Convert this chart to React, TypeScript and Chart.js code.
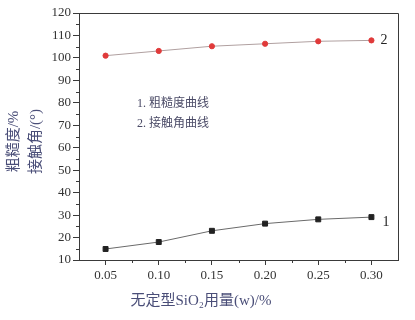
import React, { useEffect, useRef } from "react";
import { Chart, registerables } from "chart.js";
Chart.register(...registerables);

const dosage = [0.05, 0.10, 0.15, 0.20, 0.25, 0.30];
const roughness = [14.9, 18.0, 23.0, 26.2, 28.1, 29.1];
const contactAngle = [101.0, 103.1, 105.2, 106.3, 107.4, 107.8];
const xTicks = [0.05, 0.10, 0.15, 0.20, 0.25, 0.30];
const yTicks = [10, 20, 30, 40, 50, 60, 70, 80, 90, 100, 110, 120];
const legendLines = ["1. 粗糙度曲线", "2. 接触角曲线"];
const yTitleLines = ["粗糙度/%", "接触角/(°)"];
const xTitle = "无定型SiO₂用量(w)/%";

const SERIF = "'Liberation Serif', 'Noto Sans CJK SC', serif";
const AXIS = "#3a3a3a";

const decor = {
  id: "decor",
  afterDraw(chart: any) {
    const { ctx, chartArea: a, scales } = chart;
    const xs = scales.x, ys = scales.y;
    ctx.save();
    // frame top/right
    ctx.strokeStyle = AXIS;
    ctx.lineWidth = 1;
    ctx.beginPath();
    ctx.moveTo(a.left, a.top + 0.5);
    ctx.lineTo(a.right + 0.5, a.top + 0.5);
    ctx.lineTo(a.right + 0.5, a.bottom);
    ctx.stroke();
    // minor ticks
    ctx.beginPath();
    for (let v = 15; v < 120; v += 10) {
      const y = Math.round(ys.getPixelForValue(v)) + 0.5;
      ctx.moveTo(a.left - 3, y);
      ctx.lineTo(a.left, y);
    }
    for (let v = 0.075; v < 0.32; v += 0.05) {
      const x = Math.round(xs.getPixelForValue(v)) + 0.5;
      ctx.moveTo(x, a.bottom);
      ctx.lineTo(x, a.bottom + 3);
    }
    ctx.stroke();
    // curve labels
    ctx.fillStyle = "#222";
    ctx.font = `14px ${SERIF}`;
    ctx.textBaseline = "middle";
    ctx.textAlign = "left";
    const lx = xs.getPixelForValue(dosage[dosage.length - 1]) + 9;
    ctx.fillText("2", lx, ys.getPixelForValue(contactAngle[contactAngle.length - 1]));
    ctx.fillText("1", lx + 2, ys.getPixelForValue(roughness[roughness.length - 1]) + 5);
    // legend
    ctx.fillStyle = "#4a4a66";
    ctx.font = `12px ${SERIF}`;
    ctx.fillText(legendLines[0], a.left + 58, ys.getPixelForValue(79.5));
    ctx.fillText(legendLines[1], a.left + 58, ys.getPixelForValue(70.5));
    // y title
    ctx.fillStyle = "#4a4e78";
    ctx.font = `15px ${SERIF}`;
    ctx.textAlign = "center";
    const cy = (a.top + a.bottom) / 2 + 5;
    [14, 36].forEach((x, i) => {
      ctx.save();
      ctx.translate(x, cy);
      ctx.rotate(-Math.PI / 2);
      ctx.fillText(yTitleLines[i], 0, 0);
      ctx.restore();
    });
    // x title
    ctx.fillStyle = "#4a4e78";
    ctx.font = `15px ${SERIF}`;
    ctx.fillText(xTitle, 201, 301);
    ctx.restore();
  },
};

export default function App() {
  const ref = useRef<HTMLCanvasElement>(null);
  useEffect(() => {
    if (!ref.current) return;
    const chart = new Chart(ref.current, {
      type: "line",
      data: {
        datasets: [
          {
            label: "粗糙度",
            data: dosage.map((x, i) => ({ x, y: roughness[i] })),
            borderColor: "#6a6a6a",
            borderWidth: 1,
            pointStyle: "rect",
            pointRadius: 3.5,
            pointBackgroundColor: "#222",
            pointBorderColor: "#222",
            tension: 0,
          },
          {
            label: "接触角",
            data: dosage.map((x, i) => ({ x, y: contactAngle[i] })),
            borderColor: "#b0a0a0",
            borderWidth: 1,
            pointStyle: "circle",
            pointRadius: 2.6,
            pointBackgroundColor: "#e03a3a",
            pointBorderColor: "#e03a3a",
            tension: 0,
          },
        ],
      },
      options: {
        animation: false,
        responsive: false,
        layout: { padding: { top: 13, right: 17, left: 0, bottom: 0 } },
        plugins: { legend: { display: false }, tooltip: { enabled: false } },
        scales: {
          x: {
            type: "linear",
            min: 0.025,
            max: 0.325,
            afterBuildTicks: (s: any) => { s.ticks = xTicks.map((v) => ({ value: v })); },
            afterFit: (s: any) => { s.height = 60; },
            ticks: {
              color: "#333",
              font: { family: SERIF, size: 13 },
              padding: 3,
              maxRotation: 0,
              callback: (v: any) => Number(v).toFixed(2),
            },
            grid: { drawOnChartArea: false, tickLength: 5, color: AXIS },
            border: { color: AXIS },
          },
          y: {
            type: "linear",
            min: 10,
            max: 120,
            afterBuildTicks: (s: any) => { s.ticks = yTicks.map((v) => ({ value: v })); },
            afterFit: (s: any) => { s.width = 79; },
            ticks: {
              color: "#333",
              font: { family: SERIF, size: 13 },
              padding: 2,
            },
            grid: { drawOnChartArea: false, tickLength: 6, color: AXIS },
            border: { color: AXIS },
          },
        },
      },
      plugins: [decor],
    } as any);
    return () => chart.destroy();
  }, []);
  return (
    <div style={{ position: "fixed", left: 0, top: 0, width: 415, height: 320, background: "#fff" }}>
      <canvas ref={ref} width={415} height={320} style={{ width: 415, height: 320 }} />
    </div>
  );
}
